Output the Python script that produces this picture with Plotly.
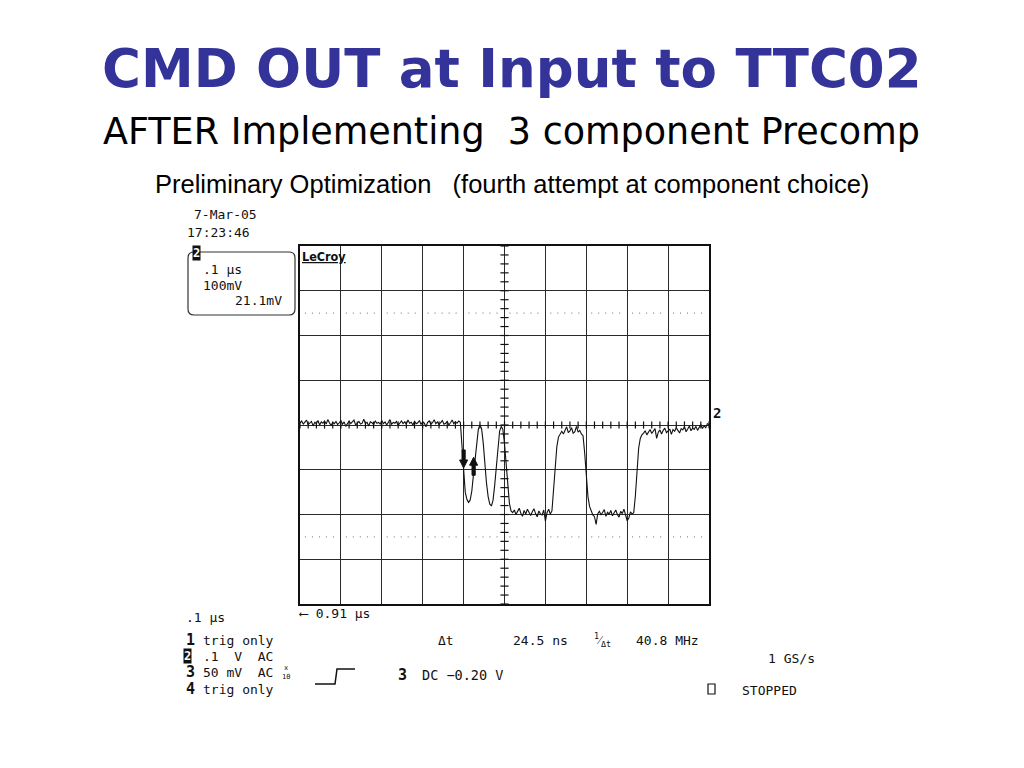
import plotly.graph_objects as go

# ---------------- data ----------------
SAMPLE_NS = 4  # one plotted sample every 4 ns
baseline_mV = [4, 9, 2, 6, 11, 1, 5, 8, -2, 6,
               3, 10, 0, 7, 4, 9, 2, 12, 5, -1,
               6, 3, 8, 1, 5, 10, 2, 7, -3, 4,
               9, 3, 6, 11, 0, 5, 8, 2, 4, 13,
               3, 6, -2, 7, 5, 1, 9, 4, 6, 2,
               10, 3, 7, 0, 5, 12, 2, 6, 4, 8,
               -1, 5, 9, 3, 7, 2, 11, 4, 6, 0,
               8, 3, 5, 10, 1, 7, 4, -4, 6, 9,
               2, 5, 12, 3, 7, 1, 6, 10, 2, 4,
               8, 0, 5, 11, 3, 7, 4, 9, 6]
ringing_mV = [-45, -115, -150, -166, -173, -168, -148, -112, -72, -35,
              -10, 0, -8, -40, -88, -130, -160, -177, -181, -168,
              -135, -88, -42, -14, -3, -10, -42, -92, -140, -175,
              -192, -196]
low1_mV = [-190, -200, -193, -186, -197, -204, -191, -199, -188, -196,
           -202, -194, -187, -198, -205, -192, -199, -201, -190, -215,
           -196, -188, -199]
rise1_mV = [-192, -150, -92, -48, -27, -19]
high1_mV = [-14, -20, -12, -4, -17, -13, -6, -19, -15, -3, -16, -12, -20]
fall1_mV = [-24, -62, -118, -160, -182, -194, -201, -205]
low2_mV = [-222, -198, -193, -201, -196, -189, -204, -195, -199, -191,
           -203, -197, -190, -200, -206, -193, -198, -188, -202, -214,
           -208, -194, -199]
rise2_mV = [-196, -158, -98, -52, -30, -22]
tail_mV = [-18, -13, -22, -15, -10, -19, -14, -8, -30, -16,
           -11, -20, -12, -7, -17, -13, -9, -21, -10, -14,
           -6, -12, -18, -8, -11, -4, -15, -9, -2, -13,
           -7, -10, -3, -12, -5, 1, -8, -2, -6, 3, 1]

v_mV = (baseline_mV + ringing_mV + low1_mV + rise1_mV + high1_mV
        + fall1_mV + low2_mV + rise2_mV + tail_mV)
t_ns = [i * SAMPLE_NS for i in range(len(v_mV))]

TIME_RANGE_NS = [0, 1000]      # 10 div x 0.1 us
VOLT_RANGE_MV = [-400, 400]    # 8 div x 100 mV
marker_levels_mV = [250, -250]
cursor_t1_ns = 400.0
delta_t_ns = 24.5
cursor_tips_mV = [-96, -72]

# ---------------- layout helpers ----------------
OFF = 8                            # page body margin of the browser
L, R, T, B = 300, 709, 246, 604    # plot frame in screen pixels
NS_PER_PX = (TIME_RANGE_NS[1] - TIME_RANGE_NS[0]) / (R - L)
MV_PER_PX = (VOLT_RANGE_MV[1] - VOLT_RANGE_MV[0]) / (B - T)


def px(x):
    return (x - L) / (R - L)


def py(y):
    return (B - y) / (B - T)


fig = go.Figure()
fig.add_trace(go.Scatter(x=t_ns, y=v_mV, mode="lines",
                         line=dict(color="#111111", width=1.1),
                         hoverinfo="skip", showlegend=False))

shapes = []
# dotted marker levels
for lvl in marker_levels_mV:
    for d in range(10):
        shapes.append(dict(type="line", xref="x", yref="y",
                           x0=d * 100 + 12, x1=d * 100 + 88, y0=lvl, y1=lvl,
                           line=dict(color="#8a8a8a", width=1.3, dash="1px,6px")))
# centre axis ticks
for v in range(-400, 401, 20):
    shapes.append(dict(type="line", xref="x", yref="y", x0=490, x1=510, y0=v, y1=v,
                       line=dict(color="#111111", width=1.2)))
for t in range(0, 1001, 20):
    shapes.append(dict(type="line", xref="x", yref="y", x0=t, x1=t, y0=-8, y1=8,
                       line=dict(color="#111111", width=1.2)))


# cursor arrows (drawn as filled paths in data units)
def arrow(t, tip, direction):
    # direction = -1 : pointing down, +1 : pointing up
    s = -direction  # shaft extends opposite to pointing direction
    hw, sw = 4 * NS_PER_PX, 1.6 * NS_PER_PX
    hl, sl = 8 * MV_PER_PX, 18 * MV_PER_PX
    pts = [(t, tip), (t + hw, tip + s * hl), (t + sw, tip + s * hl),
           (t + sw, tip + s * sl), (t - sw, tip + s * sl), (t - sw, tip + s * hl),
           (t - hw, tip + s * hl)]
    return "M " + " L ".join(f"{a},{b}" for a, b in pts) + " Z"


shapes.append(dict(type="path", xref="x", yref="y", path=arrow(cursor_t1_ns, cursor_tips_mV[0], -1),
                   fillcolor="#111111", line=dict(color="#111111", width=1)))
shapes.append(dict(type="path", xref="x", yref="y",
                   path=arrow(cursor_t1_ns + delta_t_ns, cursor_tips_mV[1], 1),
                   fillcolor="#111111", line=dict(color="#111111", width=1)))

# rounded info box
x0, y0, x1, y1, r = 188, 252, 295, 315, 6
path = (f"M {px(x0+r)},{py(y0)} L {px(x1-r)},{py(y0)} Q {px(x1)},{py(y0)} {px(x1)},{py(y0+r)} "
        f"L {px(x1)},{py(y1-r)} Q {px(x1)},{py(y1)} {px(x1-r)},{py(y1)} "
        f"L {px(x0+r)},{py(y1)} Q {px(x0)},{py(y1)} {px(x0)},{py(y1-r)} "
        f"L {px(x0)},{py(y0+r)} Q {px(x0)},{py(y0)} {px(x0+r)},{py(y0)} Z")
shapes.append(dict(type="path", xref="paper", yref="paper", path=path,
                   line=dict(color="#333333", width=1.2)))
# trigger step symbol
step = (f"M {px(315)},{py(684)} L {px(335)},{py(684)} L {px(337)},{py(669)} L {px(355)},{py(669)}")
shapes.append(dict(type="path", xref="paper", yref="paper", path=step,
                   line=dict(color="#111111", width=1.5)))
# small square before STOPPED
shapes.append(dict(type="rect", xref="paper", yref="paper",
                   x0=px(708), x1=px(715), y0=py(694), y1=py(684),
                   line=dict(color="#111111", width=1.2)))

MONO = "DejaVu Sans Mono"
ann = []


def txt(x, y, s, size=13, family=MONO, color="#111111", anchor="left", **kw):
    ann.append(dict(x=px(x), y=py(y), xref="paper", yref="paper", text=s,
                    showarrow=False, xanchor=anchor, yanchor="middle",
                    font=dict(family=family, size=size, color=color), **kw))


# titles
txt(512, 68, "<b>CMD OUT at Input to TTC02</b>", size=53, family="DejaVu Sans",
    color="#333399", anchor="center")
txt(511, 131, "AFTER Implementing\u00a0\u00a03 component Precomp", size=36.5,
    family="DejaVu Sans", color="#000000", anchor="center")
txt(512, 184, "Preliminary Optimization\u00a0\u00a0\u00a0(fourth attempt at component choice)",
    size=25.5, family="Liberation Sans", color="#000000", anchor="center")

# scope header
txt(192, 215, "7-Mar-05")
txt(185, 232, "17:23:46")
txt(196, 253, "<b>2</b>", size=12, color="#ffffff", anchor="center", bgcolor="#111111", borderpad=0)
txt(201, 269, ".1 µs")
txt(201, 285, "100mV")
txt(284, 300, "21.1mV", anchor="right")
txt(300, 256, "<b><u>LeCroy</u></b>", size=12.5, family="DejaVu Sans Condensed")
txt(711, 413, "<b>2</b>", size=14)

# scope footer
txt(297, 613, "⟵ 0.91 µs")
txt(184, 617, ".1 µs")
txt(184, 640, "<b>1</b>", size=15)
txt(201, 640, "trig only")
txt(187, 656, "<b>2</b>", size=12, color="#ffffff", anchor="center", bgcolor="#111111", borderpad=0)
txt(201, 656, ".1  V  AC".replace(" ", "\u00a0"))
txt(184, 672, "<b>3</b>", size=15)
txt(201, 672, "50 mV  AC".replace(" ", "\u00a0"))
txt(286, 672, "x<br>10", size=7, anchor="center")
txt(184, 689, "<b>4</b>", size=15)
txt(201, 689, "trig only")
txt(396, 675, "<b>3</b>", size=15)
txt(420, 675, "DC −0.20 V", size=13.5)
txt(436, 640, "Δt")
txt(511, 640, f"{delta_t_ns} ns")
txt(592, 640, "<sup>1</sup>⁄<sub>Δt</sub>", size=12)
txt(634, 640, "40.8 MHz")
txt(766, 658, "1 GS/s")
txt(740, 690, "STOPPED", size=13)

axis_common = dict(showticklabels=False, ticks="", showgrid=True, gridcolor="#2a2a2a",
                   gridwidth=1, zeroline=False, showline=True, mirror=True,
                   linecolor="#111111", linewidth=1.5, fixedrange=True)
fig.update_layout(
    width=1024, height=768,
    margin=dict(l=L - OFF, r=1024 - (R - OFF), t=T - OFF, b=768 - (B - OFF)),
    paper_bgcolor="white", plot_bgcolor="white",
    xaxis=dict(range=TIME_RANGE_NS, dtick=100, **axis_common),
    yaxis=dict(range=VOLT_RANGE_MV, dtick=100, **axis_common),
    shapes=shapes, annotations=ann, showlegend=False,
)

fig.write_html("out.html")
